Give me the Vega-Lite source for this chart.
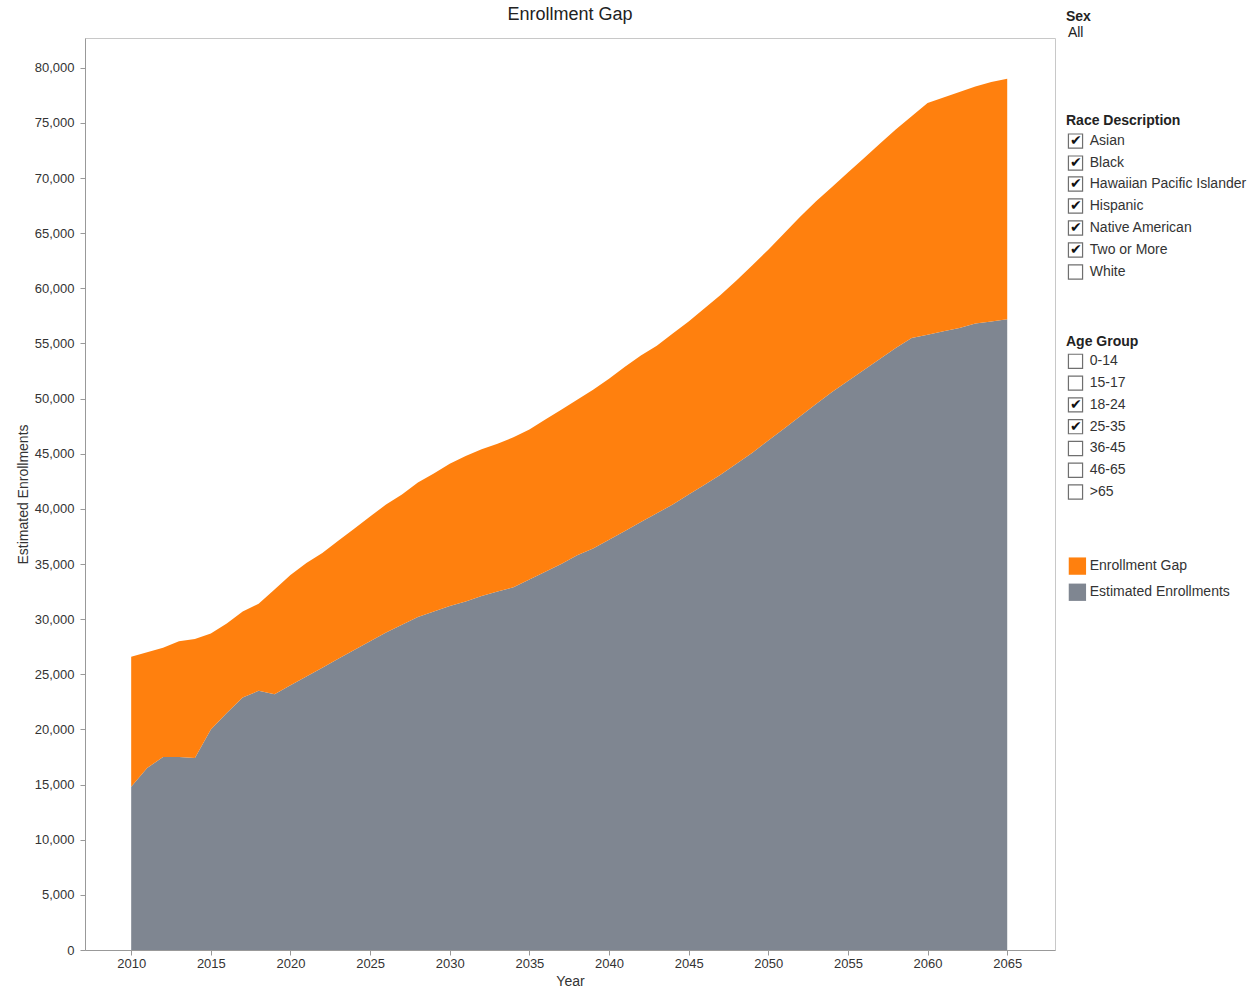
{
  "$schema": "https://vega.github.io/schema/vega-lite/v6.json",
  "config": {"font": "Liberation Sans", "view": {"stroke": null}, "concat": {"spacing": 10}},
  "padding": {"left": 15, "top": 5, "right": 5, "bottom": 5},
  "datasets": {
    "enroll": [
      {"year":2010,"est":14800,"top":26600},{"year":2011,"est":16500,"top":27000},{"year":2012,"est":17500,"top":27400},
      {"year":2013,"est":17500,"top":28000},{"year":2014,"est":17400,"top":28200},{"year":2015,"est":20000,"top":28700},
      {"year":2016,"est":21500,"top":29600},{"year":2017,"est":22900,"top":30700},{"year":2018,"est":23500,"top":31400},
      {"year":2019,"est":23200,"top":32700},{"year":2020,"est":24000,"top":34000},{"year":2021,"est":24800,"top":35100},
      {"year":2022,"est":25600,"top":36000},{"year":2023,"est":26400,"top":37100},{"year":2024,"est":27200,"top":38200},
      {"year":2025,"est":28000,"top":39300},{"year":2026,"est":28800,"top":40400},{"year":2027,"est":29500,"top":41300},
      {"year":2028,"est":30200,"top":42400},{"year":2029,"est":30700,"top":43200},{"year":2030,"est":31200,"top":44100},
      {"year":2031,"est":31600,"top":44800},{"year":2032,"est":32100,"top":45400},{"year":2033,"est":32500,"top":45900},
      {"year":2034,"est":32900,"top":46500},{"year":2035,"est":33600,"top":47200},{"year":2036,"est":34300,"top":48100},
      {"year":2037,"est":35000,"top":49000},{"year":2038,"est":35800,"top":49900},{"year":2039,"est":36400,"top":50800},
      {"year":2040,"est":37200,"top":51800},{"year":2041,"est":38000,"top":52900},{"year":2042,"est":38800,"top":53900},
      {"year":2043,"est":39600,"top":54800},{"year":2044,"est":40400,"top":55900},{"year":2045,"est":41300,"top":57000},
      {"year":2046,"est":42200,"top":58200},{"year":2047,"est":43100,"top":59400},{"year":2048,"est":44100,"top":60700},
      {"year":2049,"est":45100,"top":62100},{"year":2050,"est":46200,"top":63500},{"year":2051,"est":47300,"top":65000},
      {"year":2052,"est":48400,"top":66500},{"year":2053,"est":49500,"top":67900},{"year":2054,"est":50600,"top":69200},
      {"year":2055,"est":51600,"top":70500},{"year":2056,"est":52600,"top":71800},{"year":2057,"est":53600,"top":73100},
      {"year":2058,"est":54600,"top":74400},{"year":2059,"est":55500,"top":75600},{"year":2060,"est":55800,"top":76800},
      {"year":2061,"est":56100,"top":77300},{"year":2062,"est":56400,"top":77800},{"year":2063,"est":56800,"top":78300},
      {"year":2064,"est":57000,"top":78700},{"year":2065,"est":57200,"top":79000}
    ],
    "panel": [
      {"label":"Sex","kind":"header","pos":0},
      {"label":"All","kind":"plain","pos":0.73},
      {"label":"Race Description","kind":"header","pos":4.77},
      {"label":"Asian","kind":"box","checked":true,"pos":5.69},
      {"label":"Black","kind":"box","checked":true,"pos":6.7},
      {"label":"Hawaiian Pacific Islander","kind":"box","checked":true,"pos":7.66},
      {"label":"Hispanic","kind":"box","checked":true,"pos":8.67},
      {"label":"Native American","kind":"box","checked":true,"pos":9.68},
      {"label":"Two or More","kind":"box","checked":true,"pos":10.69},
      {"label":"White","kind":"box","checked":false,"pos":11.7},
      {"label":"Age Group","kind":"header","pos":14.9},
      {"label":"0-14","kind":"box","checked":false,"pos":15.8},
      {"label":"15-17","kind":"box","checked":false,"pos":16.8},
      {"label":"18-24","kind":"box","checked":true,"pos":17.8},
      {"label":"25-35","kind":"box","checked":true,"pos":18.8},
      {"label":"36-45","kind":"box","checked":false,"pos":19.8},
      {"label":"46-65","kind":"box","checked":false,"pos":20.8},
      {"label":">65","kind":"box","checked":false,"pos":21.8},
      {"label":"Enrollment Gap","kind":"legend","pos":25.2},
      {"label":"Estimated Enrollments","kind":"legend","pos":26.4}
    ]
  },
  "hconcat": [
    {
      "width": 970,
      "height": 912,
      "view": {"stroke": "#c8c8c8"},
      "title": {"text": "Enrollment Gap", "fontSize": 18, "fontWeight": "normal", "color": "#222", "offset": 14},
      "data": {"name": "enroll"},
      "transform": [
        {"fold": ["est", "gap"], "as": ["key", "value"]},
        {"calculate": "datum.key == 'gap' ? datum.top - datum.est : datum.est", "as": "value"},
        {"calculate": "datum.key == 'gap' ? 'Enrollment Gap' : 'Estimated Enrollments'", "as": "series"},
        {"calculate": "datum.key == 'gap' ? 2 : 1", "as": "ord"}
      ],
      "mark": {"type": "area", "opacity": 1},
      "encoding": {
        "x": {"field": "year", "type": "quantitative", "title": "Year",
          "scale": {"domain": [2007.1, 2068], "nice": false, "zero": false},
          "axis": {"values": [2010,2015,2020,2025,2030,2035,2040,2045,2050,2055,2060,2065], "format": "d", "grid": false,
            "labelFontSize": 13, "titleFontSize": 14, "titleFontWeight": "normal", "domainColor": "#999", "tickColor": "#999", "labelColor": "#333", "titleColor": "#333"}},
        "y": {"field": "value", "type": "quantitative", "stack": "zero", "title": "Estimated Enrollments",
          "scale": {"domain": [0, 82700], "nice": false},
          "axis": {"values": [0,5000,10000,15000,20000,25000,30000,35000,40000,45000,50000,55000,60000,65000,70000,75000,80000],
            "grid": false, "labelFontSize": 13, "titleFontSize": 14, "titleFontWeight": "normal", "domainColor": "#999", "tickColor": "#999", "labelColor": "#333", "titleColor": "#333", "labelPadding": 6}},
        "order": {"field": "ord"},
        "color": {"field": "series", "type": "nominal", "legend": null,
          "scale": {"domain": ["Enrollment Gap", "Estimated Enrollments"], "range": ["#FF800E", "#7F8691"]}}
      }
    },
    {
      "width": 190,
      "height": 600,
      "data": {"name": "panel"},
      "encoding": {
        "y": {"field": "pos", "type": "quantitative", "axis": null, "scale": {"domain": [0.96, 28.5], "reverse": true, "nice": false, "zero": false}}
      },
      "layer": [
        {"transform": [{"filter": "datum.kind == 'header'"}],
          "mark": {"type": "text", "align": "left", "fontWeight": "bold", "fontSize": 14, "color": "#222"},
          "encoding": {"x": {"datum": 0, "type": "quantitative", "scale": {"domain": [0, 190]}, "axis": null}, "text": {"field": "label"}}},
        {"transform": [{"filter": "datum.kind == 'plain'"}],
          "mark": {"type": "text", "align": "left", "fontSize": 14, "color": "#222"},
          "encoding": {"x": {"datum": 2, "type": "quantitative"}, "text": {"field": "label"}}},
        {"transform": [{"filter": "datum.kind == 'box'"}],
          "mark": {"type": "square", "size": 200, "filled": false, "stroke": "#333", "strokeWidth": 1.2},
          "encoding": {"x": {"datum": 10, "type": "quantitative"}}},
        {"transform": [{"filter": "datum.kind == 'box' && datum.checked"}],
          "mark": {"type": "text", "text": "✔", "fontSize": 14, "color": "#111"},
          "encoding": {"x": {"datum": 10, "type": "quantitative"}}},
        {"transform": [{"filter": "datum.kind == 'legend'"}],
          "mark": {"type": "square", "size": 300, "opacity": 1},
          "encoding": {"x": {"datum": 12, "type": "quantitative"},
            "color": {"field": "label", "type": "nominal", "legend": null,
              "scale": {"domain": ["Enrollment Gap", "Estimated Enrollments"], "range": ["#FF800E", "#7F8691"]}}}},
        {"transform": [{"filter": "datum.kind == 'box' || datum.kind == 'legend'"}],
          "mark": {"type": "text", "align": "left", "fontSize": 14, "color": "#333"},
          "encoding": {"x": {"datum": 25, "type": "quantitative"}, "text": {"field": "label"}}}
      ]
    }
  ]
}
